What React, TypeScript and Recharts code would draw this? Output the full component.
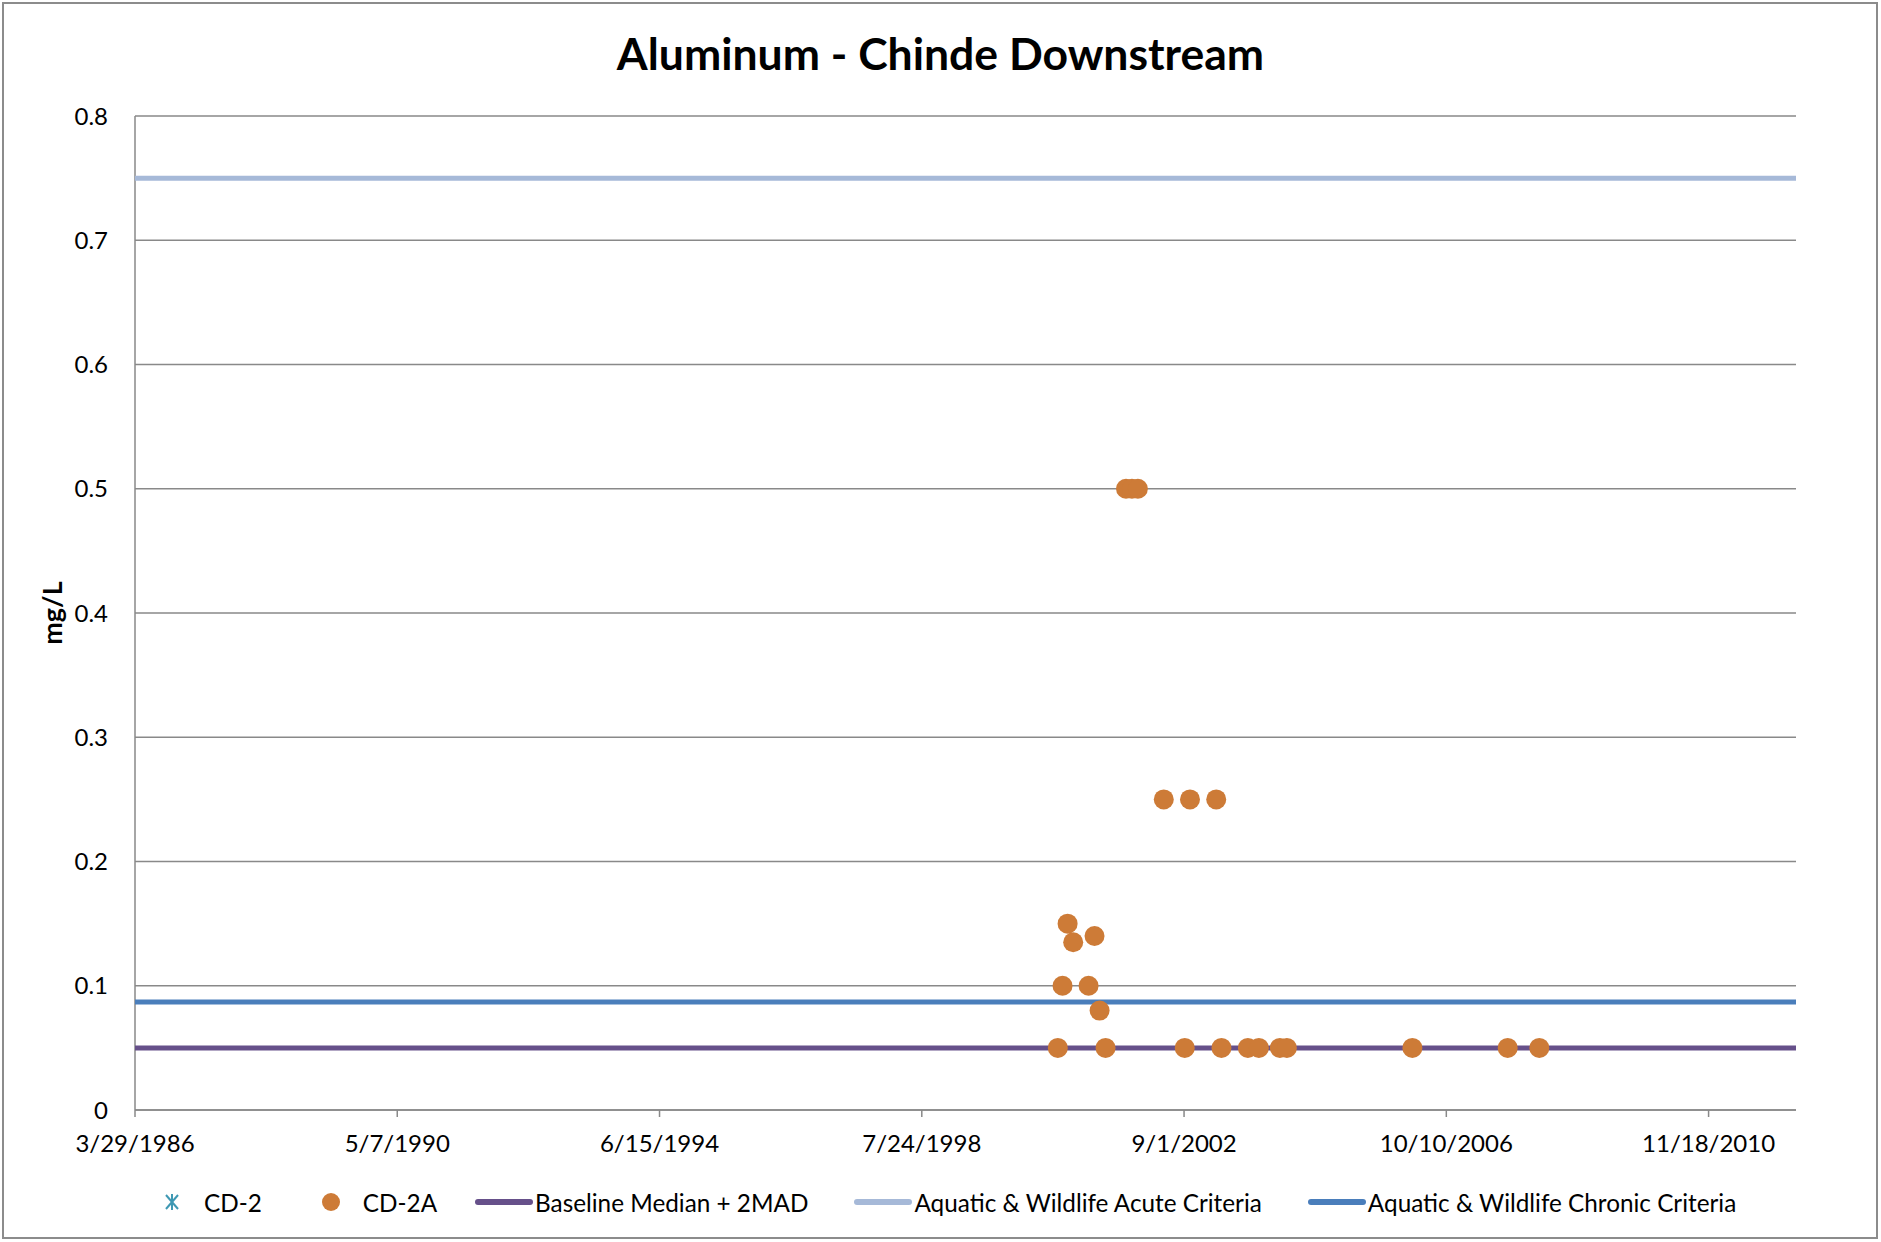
import React from "react";
import { ScatterChart, Scatter, XAxis, YAxis, CartesianGrid } from "recharts";

const FONT = "Lato, 'Noto Sans', sans-serif";

// sample dates for CD-2A and the measured aluminum values (mg/L)
const cd2aDates = [
  "2000-09-09", "2000-10-06", "2000-11-04", "2000-12-06", "2001-03-04", "2001-04-07",
  "2001-05-06", "2001-06-09", "2001-10-04", "2001-11-07", "2001-12-11", "2002-05-08",
  "2002-09-05", "2002-10-05", "2003-03-04", "2003-04-03", "2003-09-01", "2003-11-03",
  "2004-03-02", "2004-04-11", "2006-03-30", "2007-09-26", "2008-03-25",
];
const cd2aValues = [
  0.05, 0.1, 0.15, 0.135, 0.1, 0.14,
  0.08, 0.05, 0.5, 0.5, 0.5, 0.25,
  0.05, 0.25, 0.25, 0.05, 0.05, 0.05,
  0.05, 0.05, 0.05, 0.05, 0.05,
];
// no CD-2 samples fall in this record
const cd2Dates: string[] = [];
const cd2Values: number[] = [];

const baselineValue = 0.05;
const acuteValue = 0.75;
const chronicValue = 0.087;

const xTickDates = ["1986-03-29", "1990-05-07", "1994-06-15", "1998-07-24", "2002-09-01", "2006-10-10", "2010-11-18"];
const xRange = ["1986-03-29", "2012-04-01"];
const yTicks = [0, 0.1, 0.2, 0.3, 0.4, 0.5, 0.6, 0.7, 0.8];

const toMs = (s: string) => Date.parse(s + "T00:00:00Z");
const fmtDate = (v: number) => {
  const t = new Date(v);
  return `${t.getUTCMonth() + 1}/${t.getUTCDate()}/${t.getUTCFullYear()}`;
};

const xMin = toMs(xRange[0]);
const xMax = toMs(xRange[1]);
const cd2a = cd2aDates.map((d, i) => ({ x: toMs(d), y: cd2aValues[i] }));
const cd2 = cd2Dates.map((d, i) => ({ x: toMs(d), y: cd2Values[i] }));
const flat = (y: number) => [{ x: xMin, y }, { x: xMax, y }];

const C = {
  cd2: "#3E98B3",
  cd2a: "#CD7B37",
  baseline: "#66508A",
  acute: "#A6B9D8",
  chronic: "#4A7EBB",
  grid: "#898989",
};

const noShape = () => <g />;

function Legend() {
  const text = { fontSize: 24.3, color: "#000", whiteSpace: "nowrap" as const };
  const lineMark = (color: string) => (
    <svg width={58} height={12} style={{ marginRight: 2 }}>
      <line x1={3} y1={6} x2={55} y2={6} stroke={color} strokeWidth={6} strokeLinecap="round" />
    </svg>
  );
  return (
    <div style={{ position: "absolute", left: 162, top: 1186, height: 32, display: "flex", alignItems: "center", fontFamily: FONT }}>
      <svg width={20} height={20} style={{ marginRight: 22 }}>
        <g stroke={C.cd2} strokeWidth={2}>
          <line x1={10} y1={2} x2={10} y2={18} />
          <line x1={4} y1={3} x2={16} y2={17} />
          <line x1={16} y1={3} x2={4} y2={17} />
        </g>
      </svg>
      <span style={{ ...text, marginRight: 59 }}>CD-2</span>
      <svg width={20} height={20} style={{ marginRight: 22 }}>
        <circle cx={10} cy={10} r={9} fill={C.cd2a} />
      </svg>
      <span style={{ ...text, marginRight: 38 }}>CD-2A</span>
      {lineMark(C.baseline)}
      <span style={{ ...text, marginRight: 46 }}>Baseline Median + 2MAD</span>
      {lineMark(C.acute)}
      <span style={{ ...text, marginRight: 46 }}>Aquatic &amp; Wildlife Acute Criteria</span>
      {lineMark(C.chronic)}
      <span style={text}>Aquatic &amp; Wildlife Chronic Criteria</span>
    </div>
  );
}

export default function App() {
  return (
    <div style={{ position: "absolute", left: 0, top: 0, width: 1881, height: 1242, background: "#fff", fontFamily: FONT }}>
      <div
        style={{
          position: "absolute", left: 2, top: 2, width: 1876, height: 1237,
          boxSizing: "border-box", border: "2px solid #8c8c8c",
        }}
      />
      <div
        style={{
          position: "absolute", left: 0, top: 31, width: 1881, textAlign: "center",
          fontSize: 44.5, fontWeight: 700, lineHeight: "44px", color: "#000",
        }}
      >
        Aluminum - Chinde Downstream
      </div>
      <ScatterChart width={1881} height={1242} margin={{ top: 116, right: 85, bottom: 72, left: 35 }}>
        <CartesianGrid vertical={false} stroke={C.grid} strokeWidth={1.5} />
        <XAxis
          type="number"
          dataKey="x"
          domain={[xMin, xMax]}
          ticks={xTickDates.map(toMs)}
          tickFormatter={fmtDate}
          allowDataOverflow
          height={60}
          stroke={C.grid}
          strokeWidth={1.5}
          tickSize={7}
          tickMargin={18}
          tick={{ fill: "#000", fontSize: 24, fontFamily: FONT }}
        />
        <YAxis
          type="number"
          dataKey="y"
          domain={[0, 0.8]}
          ticks={yTicks}
          width={100}
          stroke={C.grid}
          strokeWidth={1.5}
          tickLine={false}
          tickSize={0}
          tickMargin={27}
          tick={{ fill: "#000", fontSize: 24, fontFamily: FONT }}
          label={({ viewBox }: any) => (
            <text
              x={viewBox.x + 16}
              y={viewBox.y + viewBox.height / 2}
              transform={`rotate(-90, ${viewBox.x + 16}, ${viewBox.y + viewBox.height / 2})`}
              textAnchor="middle"
              dominantBaseline="central"
              fontSize={27}
              fontWeight={700}
              fontFamily={FONT}
              fill="#000"
            >
              mg/L
            </text>
          )}
        />
        <Scatter name="Baseline Median + 2MAD" data={flat(baselineValue)} fill={C.baseline} line={{ stroke: C.baseline, strokeWidth: 5 }} shape={noShape} isAnimationActive={false} />
        <Scatter name="Aquatic & Wildlife Acute Criteria" data={flat(acuteValue)} fill={C.acute} line={{ stroke: C.acute, strokeWidth: 5 }} shape={noShape} isAnimationActive={false} />
        <Scatter name="Aquatic & Wildlife Chronic Criteria" data={flat(chronicValue)} fill={C.chronic} line={{ stroke: C.chronic, strokeWidth: 5 }} shape={noShape} isAnimationActive={false} />
        <Scatter name="CD-2" data={cd2} fill={C.cd2} isAnimationActive={false} />
        <Scatter
          name="CD-2A"
          data={cd2a}
          fill={C.cd2a}
          isAnimationActive={false}
          shape={(p: any) => <circle cx={p.cx} cy={p.cy} r={10} fill={C.cd2a} />}
        />
      </ScatterChart>
      <Legend />
    </div>
  );
}
